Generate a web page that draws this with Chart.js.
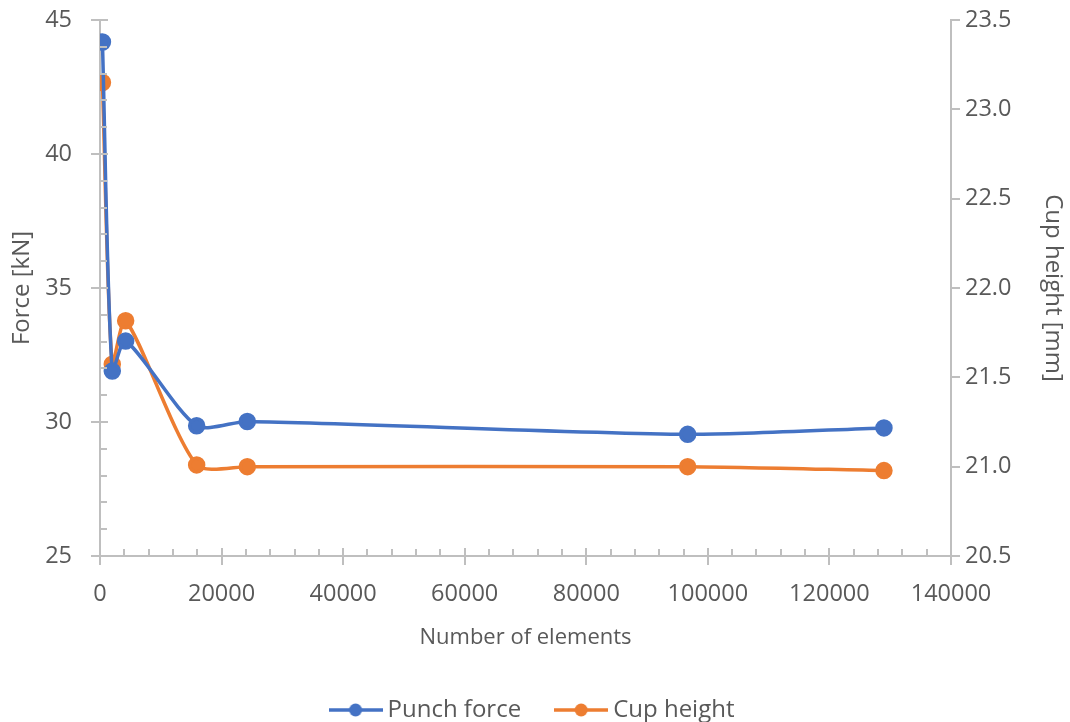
<!DOCTYPE html>
<html>
<head>
<meta charset="utf-8">
<script src="https://cdn.jsdelivr.net/npm/chart.js@4.4.1/dist/chart.umd.min.js"></script>
<style>
  html, body { margin: 0; padding: 0; background: #fff; }
  #wrap { width: 1070px; height: 722px; }
</style>
</head>
<body>
<div id="wrap"><canvas id="myChart" width="1070" height="722"></canvas></div>
<script>
// data
const elements = [400, 2020, 4220, 15900, 24230, 96680, 128970];
const punchForce = [44.18, 31.9, 33.02, 29.86, 30.02, 29.54, 29.78];
const cupHeight = [23.15, 21.573, 21.817, 21.01, 21.0, 21.0, 20.978];

const xTicks = [0, 20000, 40000, 60000, 80000, 100000, 120000, 140000];
const forceTicks = [25, 30, 35, 40, 45];
const heightTicks = [20.5, 21.0, 21.5, 22.0, 22.5, 23.0, 23.5];

const blue = '#4472C4';
const orange = '#ED7D31';
const axisColor = '#BFBFBF';
const textColor = '#595959';
const fontFamily = '"Open Sans", "Liberation Sans", sans-serif';

// little line+dot images for the legend
function legendIcon(color) {
    const c = document.createElement('canvas');
    c.width = 54; c.height = 16;
    const g = c.getContext('2d');
    g.strokeStyle = color;
    g.lineWidth = 3.5;
    g.beginPath(); g.moveTo(0, 8); g.lineTo(54, 8); g.stroke();
    g.fillStyle = color;
    g.beginPath(); g.arc(27, 8, 6.5, 0, Math.PI * 2); g.fill();
    return c;
}

// Excel style tick marks (major + minor), drawn through the scales
const tickMarks = {
    id: 'tickMarks',
    afterDraw(chart) {
        const ctx = chart.ctx;
        const x = chart.scales.x, y = chart.scales.y, y1 = chart.scales.y1;
        const area = chart.chartArea;
        ctx.save();
        ctx.strokeStyle = axisColor;
        ctx.lineWidth = 2;
        ctx.beginPath();
        for (let v = 0; v <= 140000; v += 4000) {
            const px = Math.round(x.getPixelForValue(v));
            if (v % 20000 === 0) {
                ctx.moveTo(px, area.bottom - 8); ctx.lineTo(px, area.bottom + 9);
            } else {
                ctx.moveTo(px, area.bottom - 7); ctx.lineTo(px, area.bottom);
            }
        }
        for (let v = 25; v <= 45; v += 1) {
            const py = Math.round(y.getPixelForValue(v));
            if (v % 5 === 0) {
                ctx.moveTo(area.left - 9, py); ctx.lineTo(area.left + 8, py);
            } else {
                ctx.moveTo(area.left, py); ctx.lineTo(area.left + 7, py);
            }
        }
        heightTicks.forEach(v => {
            const py = Math.round(y1.getPixelForValue(v));
            ctx.moveTo(area.right, py); ctx.lineTo(area.right + 9, py);
        });
        ctx.stroke();
        ctx.restore();
    }
};

const data = {
    datasets: [{
        label: 'Punch force',
        data: elements.map((n, i) => ({ x: n, y: punchForce[i] })),
        borderColor: blue,
        backgroundColor: blue,
        borderWidth: 3.5,
        pointRadius: 7,
        pointHoverRadius: 7,
        tension: 0.25,
        yAxisID: 'y'
    }, {
        label: 'Cup height',
        data: elements.map((n, i) => ({ x: n, y: cupHeight[i] })),
        borderColor: orange,
        backgroundColor: orange,
        borderWidth: 3.5,
        pointRadius: 7,
        pointHoverRadius: 7,
        tension: 0.25,
        yAxisID: 'y1'
    }]
};

const tickFont = { family: fontFamily, size: 23.5 };
const titleFont = { family: fontFamily, size: 24 };

const config = {
    type: 'line',
    data: data,
    options: {
        responsive: false,
        animation: false,
        layout: { padding: { top: 20, bottom: -10, left: 0, right: 0 } },
        plugins: {
            tooltip: { enabled: false },
            legend: {
                position: 'bottom',
                labels: {
                    usePointStyle: true,
                    pointStyleWidth: 40,
                    boxHeight: 16,
                    padding: 40,
                    color: textColor,
                    font: { family: fontFamily, size: 24 },
                    generateLabels(chart) {
                        return chart.data.datasets.map((ds, i) => ({
                            text: ds.label,
                            pointStyle: legendIcon(ds.borderColor),
                            fontColor: textColor,
                            lineWidth: 0,
                            strokeStyle: 'transparent',
                            fillStyle: ds.borderColor,
                            hidden: false,
                            datasetIndex: i
                        }));
                    }
                }
            }
        },
        scales: {
            x: {
                type: 'linear',
                min: 0,
                max: 140000,
                afterBuildTicks(s) { s.ticks = xTicks.map(v => ({ value: v })); },
                grid: { display: false, drawTicks: false },
                border: { display: true, color: axisColor, width: 2 },
                ticks: { color: textColor, font: tickFont, padding: 24, maxRotation: 0, callback: v => String(v) },
                title: {
                    display: true,
                    text: 'Number of elements',
                    color: textColor,
                    font: { family: fontFamily, size: 22 },
                    padding: { top: 6, bottom: 7 }
                },
                afterFit(s) { s.height = 102; s.paddingLeft = 0; s.paddingRight = 0; }
            },
            y: {
                type: 'linear',
                position: 'left',
                min: 25,
                max: 45,
                afterBuildTicks(s) { s.ticks = forceTicks.map(v => ({ value: v })); },
                grid: { display: false, drawTicks: false },
                border: { display: true, color: axisColor, width: 2 },
                ticks: { color: textColor, font: tickFont, padding: 28 },
                title: {
                    display: true,
                    text: 'Force [kN]',
                    color: textColor,
                    font: titleFont,
                    padding: { top: 8, bottom: 0 }
                },
                afterFit(s) { s.width = 100; s.paddingTop = 0; s.paddingBottom = 0; }
            },
            y1: {
                type: 'linear',
                position: 'right',
                min: 20.5,
                max: 23.5,
                afterBuildTicks(s) { s.ticks = heightTicks.map(v => ({ value: v })); },
                grid: { display: false, drawTicks: false },
                border: { display: true, color: axisColor, width: 2 },
                ticks: {
                    color: textColor,
                    font: tickFont,
                    padding: 14,
                    callback: v => Number(v).toFixed(1)
                },
                title: {
                    display: true,
                    text: 'Cup height [mm]',
                    color: textColor,
                    font: titleFont,
                    padding: { top: 3, bottom: 0 }
                },
                afterFit(s) { s.width = 119; s.paddingTop = 0; s.paddingBottom = 0; }
            }
        }
    },
    plugins: [tickMarks]
};

const ctx = document.getElementById('myChart').getContext('2d');
const myChart = new Chart(ctx, config);
</script>
</body>
</html>
